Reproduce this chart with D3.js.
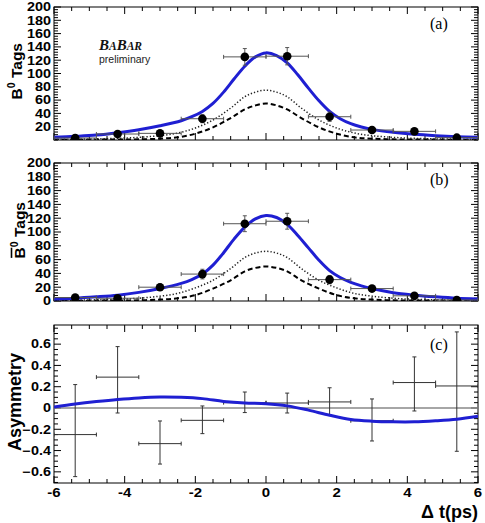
<!DOCTYPE html>
<html><head><meta charset="utf-8">
<script src="https://cdn.jsdelivr.net/npm/d3@7"></script>
<style>
body{margin:0;background:#fff;}
svg{display:block;font-family:"Liberation Sans",Arial,sans-serif;}
</style></head>
<body><svg id="c" width="485" height="523"></svg>
<script>
// ---------- data ----------
const binCenters = [-5.4,-4.2,-3.0,-1.8,-0.6,0.6,1.8,3.0,4.2,5.4];
const binHalfWidth = 0.6;

const b0Tags = [3, 9, 10, 32, 125, 126, 35, 15, 13, 3.5];
const b0Err  = [2, 3, 3, 6, 12.5, 13, 7, 4, 4, 2];

const b0barTags = [5, 4, 20, 39, 112, 115.6, 31, 18, 7.5, 1.5];
const b0barErr  = [2, 2, 4.5, 7, 11.5, 11.5, 6, 4.5, 3, 1.5];

const asymValue = [-0.25, 0.29, -0.335, -0.116, 0.05, 0.047, 0.057, -0.12, 0.239, 0.207];
const asymLow   = [-0.645, -0.047, -0.527, -0.241, -0.043, -0.047, -0.069, -0.31, -0.028, -0.407];
const asymHigh  = [0.22, 0.577, -0.122, 0.019, 0.15, 0.14, 0.19, 0.085, 0.48, 0.715];

// fit curves
const curveT = [-6,-5.4,-4.8,-4.2,-3.6,-3.0,-2.4,-2.1,-1.8,-1.5,-1.2,-0.9,-0.6,-0.3,0,0.3,0.6,0.9,1.2,1.5,1.8,2.1,2.4,2.7,3.0,3.6,4.2,4.8,5.4,6];
const b0Total    = [4,5.5,7.5,11,15.5,21.5,29,35,43,55,72,92,111,125,131,127,116,98,78,59,43,32,24.5,19.5,16,11.5,8.5,6.5,5,4];
const b0barTotal = [3,4,6,8.5,12.5,18,25.5,31,39,52,70,90,107,119,124,121,111,95,77,59,44,34,27,22,18,12,8.5,6,4,3];

const compT = [-6,-5,-4.2,-3.6,-3.0,-2.5,-2.0,-1.5,-1.0,-0.6,-0.3,0,0.3,0.6,1.0,1.5,2.0,2.5,3.0,3.6,4.2,5,6];
const b0Dotted  = [1,1.5,2.5,4,6.5,10.5,18,30,48,65,72,75,72,65,48,30,18,10.5,6.5,4,2.5,1.5,1];
const b0Dashed  = [0.3,0.5,0.8,1,2,4,9.5,19,33,46,52,55,52,46,33,19,9.5,4,2,1,0.8,0.5,0.3];
const b0barDotted = [1,1.5,2.5,4,7,11,19,30,47,63,69.5,72,69.5,63,47,30,19,11,7,4,2.5,1.5,1];
const b0barDashed = [0.3,0.5,0.8,1,2,4,8.5,18,30,43,48,50,48,43,30,18,8.5,4,2,1,0.8,0.5,0.3];

const asymT = [-6,-5.4,-4.8,-4.2,-3.6,-3.0,-2.4,-1.8,-1.2,-0.6,0,0.6,1.2,1.8,2.4,3.0,3.6,4.2,4.8,5.4,6];
const asymFit = [0.01,0.037,0.06,0.08,0.095,0.103,0.1,0.088,0.062,0.047,0.04,0.02,-0.02,-0.068,-0.108,-0.124,-0.13,-0.13,-0.12,-0.105,-0.078];

const xTickLabels = [-6,-4,-2,0,2,4,6];
const countTickLabelsA = [20,40,60,80,100,120,140,160,180,200];
const countTickLabelsB = [0,20,40,60,80,100,120,140,160,180,200];
const asymTickLabels = [-0.6,-0.4,-0.2,0,0.2,0.4,0.6];

// ---------- layout ----------
const svg = d3.select("#c");
const L = 54, R = 478;
const blue = "#1f1fd2";
const x = d3.scaleLinear().domain([-6,6]).range([L,R]);
const smooth = d3.curveCatmullRom.alpha(0.5);

function frame(g, y, top, bottom, yMajor, yMinor, yLabels, yFmt, xLabels, id){
  svg.append("clipPath").attr("id",id).append("rect")
    .attr("x",L).attr("y",top).attr("width",R-L).attr("height",bottom-top);
  const xMinor = d3.range(-6,6.001,0.5);
  xMinor.forEach(v=>{
    const major = Math.abs(v/2 - Math.round(v/2))<1e-6;
    const len = major?7:4;
    g.append("line").attr("x1",x(v)).attr("x2",x(v)).attr("y1",bottom).attr("y2",bottom-len).attr("stroke","#000");
    g.append("line").attr("x1",x(v)).attr("x2",x(v)).attr("y1",top).attr("y2",top+len).attr("stroke","#000");
  });
  yMinor.forEach(v=>{
    const major = yMajor.some(m=>Math.abs(m-v)<1e-6);
    const len = major?7:4;
    const yy = y(v);
    if (yy<top-0.5||yy>bottom+0.5) return;
    g.append("line").attr("x1",L).attr("x2",L+len).attr("y1",yy).attr("y2",yy).attr("stroke","#000");
    g.append("line").attr("x1",R).attr("x2",R-len).attr("y1",yy).attr("y2",yy).attr("stroke","#000");
  });
  yLabels.forEach(v=>{
    g.append("text").attr("transform",`translate(51,${y(v)+4.3}) scale(1.2,1)`)
      .attr("text-anchor","end").attr("font-size",12).attr("font-weight","bold").text(yFmt(v));
  });
  if (xLabels){
    xLabels.forEach(v=>{
      g.append("text").attr("transform",`translate(${x(v)},497) scale(1.25,1)`)
        .attr("text-anchor","middle").attr("font-size",12).attr("font-weight","bold").text(v);
    });
  }
  g.append("rect").attr("x",L).attr("y",top).attr("width",R-L).attr("height",bottom-top)
    .attr("fill","none").attr("stroke","#000").attr("stroke-width",1);
}

function countPanel(top,bottom,labels,total,dotted,dashed,vals,errs,id,tag){
  const g = svg.append("g");
  const y = d3.scaleLinear().domain([0,200]).range([bottom,top]);
  frame(g,y,top,bottom,labels,d3.range(0,200.001,4),labels,d=>d,null,id);
  const pg = g.append("g").attr("clip-path",`url(#${id})`);
  const mk = (ts,vs)=>d3.line().curve(smooth).x((d,i)=>x(ts[i])).y((d,i)=>y(vs[i]))(vs);
  pg.append("path").attr("d",mk(compT,dashed)).attr("fill","none").attr("stroke","#000").attr("stroke-width",2).attr("stroke-dasharray","5,3");
  pg.append("path").attr("d",mk(compT,dotted)).attr("fill","none").attr("stroke","#222").attr("stroke-width",1.5).attr("stroke-dasharray","1.3,2");
  pg.append("path").attr("d",mk(curveT,total)).attr("fill","none").attr("stroke",blue).attr("stroke-width",3);
  const eb = pg.append("g").attr("stroke","#555").attr("stroke-width",1);
  binCenters.forEach((c,i)=>{
    const x0=x(c-binHalfWidth), x1=x(c+binHalfWidth), yc=y(vals[i]);
    eb.append("line").attr("x1",x0).attr("x2",x1).attr("y1",yc).attr("y2",yc);
    eb.append("line").attr("x1",x0).attr("x2",x0).attr("y1",yc-2).attr("y2",yc+2);
    eb.append("line").attr("x1",x1).attr("x2",x1).attr("y1",yc-2).attr("y2",yc+2);
    const ya=y(vals[i]+errs[i]), yb=y(vals[i]-errs[i]);
    eb.append("line").attr("x1",x(c)).attr("x2",x(c)).attr("y1",ya).attr("y2",yb);
    eb.append("line").attr("x1",x(c)-2).attr("x2",x(c)+2).attr("y1",ya).attr("y2",ya);
    eb.append("line").attr("x1",x(c)-2).attr("x2",x(c)+2).attr("y1",yb).attr("y2",yb);
  });
  pg.selectAll("circle.p").data(vals).join("circle").attr("cx",(d,i)=>x(binCenters[i])).attr("cy",d=>y(d)).attr("r",4.3).attr("fill","#000");
  g.append("text").attr("x",430).attr("y",top+22).attr("font-family","'Liberation Serif','Times New Roman',serif").attr("font-size",16).text(tag);
  return g;
}

countPanel(7,140,countTickLabelsA,b0Total,b0Dotted,b0Dashed,b0Tags,b0Err,"ca","(a)");
countPanel(163,301,countTickLabelsB,b0barTotal,b0barDotted,b0barDashed,b0barTags,b0barErr,"cb","(b)");

// BaBar logo
const logo = svg.append("text").attr("x",99).attr("y",50).attr("font-family","'Liberation Serif','Times New Roman',serif")
  .attr("font-style","italic").attr("font-weight","bold").attr("fill","#111");
logo.append("tspan").attr("font-size",15).text("B");
logo.append("tspan").attr("font-size",11.5).text("A");
logo.append("tspan").attr("font-size",15).text("B");
logo.append("tspan").attr("font-size",11.5).text("AR");
svg.append("text").attr("x",99).attr("y",63).attr("font-size",10.5).attr("fill","#222").text("preliminary");

function countTitle(xb, yend, bar){
  const g = svg.append("g").attr("transform",`translate(${xb},${yend}) rotate(-90)`);
  const t = g.append("text").attr("text-anchor","end").attr("font-size",15.5).attr("font-weight","bold");
  t.append("tspan").text("B");
  t.append("tspan").attr("font-size",10.5).attr("dy",-7).text("0");
  t.append("tspan").attr("dy",7).text(" Tags");
  if (bar){
    const total = t.node().getComputedTextLength();
    const bw = t.node().getSubStringLength(0,1);
    g.append("line").attr("x1",-total+0.5).attr("x2",-total+bw-0.5).attr("y1",-13.5).attr("y2",-13.5)
      .attr("stroke","#000").attr("stroke-width",1.6);
  }
}
countTitle(22,43,false);
countTitle(25,202,true);

// asymmetry panel
(function(){
  const top=325,bottom=483;
  const g = svg.append("g");
  const y = d3.scaleLinear().domain([-0.705,0.78]).range([bottom,top]);
  const minor = d3.range(-0.7,0.7501,0.05).map(v=>Math.round(v*100)/100);
  frame(g,y,top,bottom,asymTickLabels,minor,asymTickLabels,d=>d===0?"0":d3.format(".1f")(d),xTickLabels,"cc");
  const pg = g.append("g").attr("clip-path","url(#cc)");
  pg.append("line").attr("x1",L).attr("x2",R).attr("y1",y(0)).attr("y2",y(0)).attr("stroke","#888").attr("stroke-width",1.5);
  const eb = pg.append("g").attr("stroke","#333").attr("stroke-width",1);
  binCenters.forEach((c,i)=>{
    const x0=x(c-binHalfWidth), x1=x(c+binHalfWidth), yc=y(asymValue[i]);
    eb.append("line").attr("x1",x0).attr("x2",x1).attr("y1",yc).attr("y2",yc);
    eb.append("line").attr("x1",x0).attr("x2",x0).attr("y1",yc-2).attr("y2",yc+2);
    eb.append("line").attr("x1",x1).attr("x2",x1).attr("y1",yc-2).attr("y2",yc+2);
    const ya=y(asymHigh[i]), yb=y(asymLow[i]);
    eb.append("line").attr("x1",x(c)).attr("x2",x(c)).attr("y1",ya).attr("y2",yb);
    eb.append("line").attr("x1",x(c)-2).attr("x2",x(c)+2).attr("y1",ya).attr("y2",ya);
    eb.append("line").attr("x1",x(c)-2).attr("x2",x(c)+2).attr("y1",yb).attr("y2",yb);
  });
  pg.append("path").attr("d",d3.line().curve(smooth).x((d,i)=>x(asymT[i])).y(d=>y(d))(asymFit))
    .attr("fill","none").attr("stroke",blue).attr("stroke-width",3);
  g.append("text").attr("x",430).attr("y",350).attr("font-family","'Liberation Serif','Times New Roman',serif").attr("font-size",16).text("(c)");
  svg.append("text").attr("transform","translate(21,353) rotate(-90)").attr("text-anchor","end")
    .attr("font-size",18).attr("font-weight","bold").text("Asymmetry");
  svg.append("text").attr("x",478).attr("y",518).attr("text-anchor","end").attr("font-size",18).attr("font-weight","bold").text("\u0394 t(ps)");
})();
</script></body></html>
